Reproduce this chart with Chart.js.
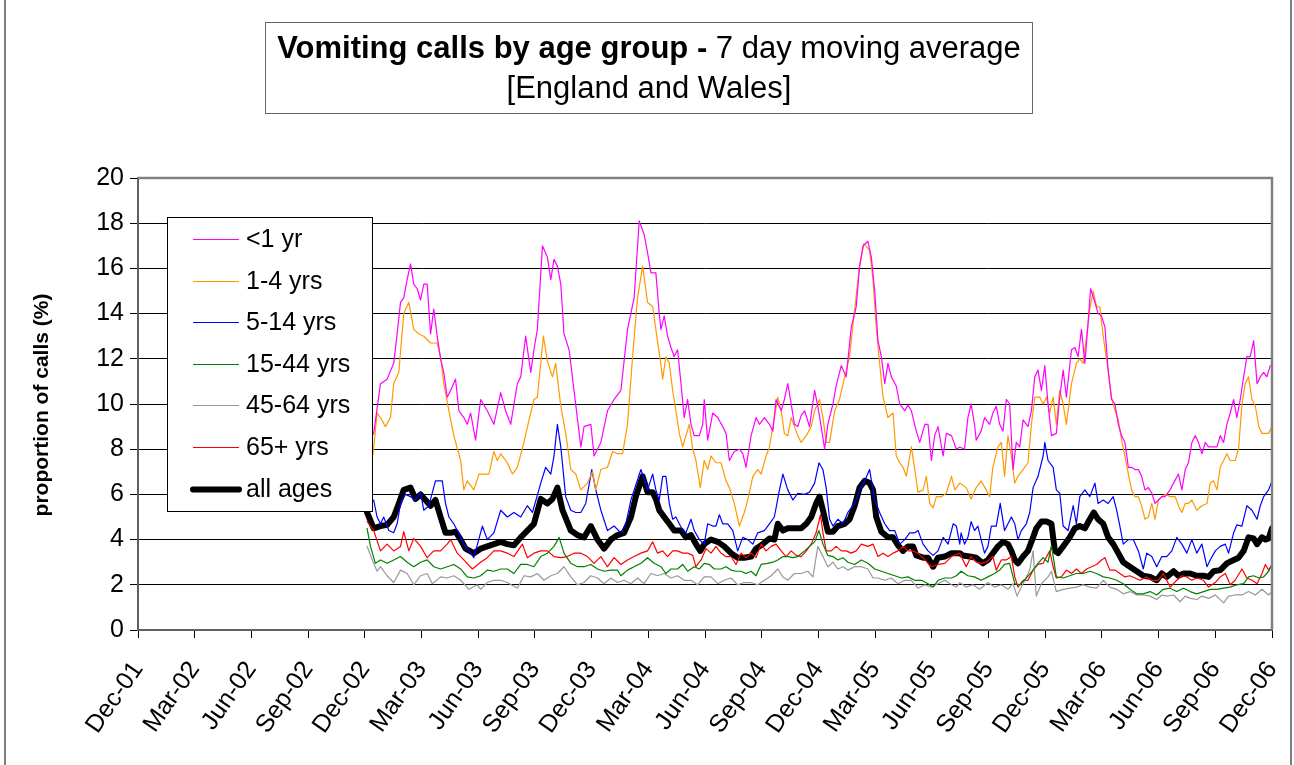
<!DOCTYPE html>
<html>
<head>
<meta charset="utf-8">
<title>Vomiting calls by age group</title>
<script src="https://cdn.jsdelivr.net/npm/chart.js@4.4.1/dist/chart.umd.min.js"></script>
<style>
  html, body { margin: 0; padding: 0; background: #fff; }
  #wrap { width: 1294px; height: 765px; position: relative; }
</style>
</head>
<body>
<div id="wrap"><canvas id="chart" width="1294" height="765"></canvas></div>
<script>
// x = months since Dec-01, y = % of calls; each series is a list of [month, value] readings
const quarterLabels = ['Dec-01','Mar-02','Jun-02','Sep-02','Dec-02','Mar-03','Jun-03','Sep-03','Dec-03',
  'Mar-04','Jun-04','Sep-04','Dec-04','Mar-05','Jun-05','Sep-05','Dec-05','Mar-06','Jun-06','Sep-06','Dec-06'];

const under1 = [[12.1,8.3],[12.47,8.7],[12.83,10.9],[13.18,11.1],[13.53,11.8],[13.71,13.1],[13.89,14.5],[14.06,14.7],
  [14.24,15.5],[14.42,16.2],[14.59,15.3],[14.77,15.1],[14.95,14.6],[15.12,15.3],[15.30,15.3],[15.48,13.1],[15.65,14.2],
  [15.83,13.0],[16.01,12.0],[16.18,11.4],[16.36,10.3],[16.54,10.6],[16.80,11.1],[16.98,9.7],[17.24,9.4],[17.42,9.1],
  [17.60,9.6],[17.86,8.4],[18.13,10.2],[18.48,9.7],[18.83,9.1],[19.19,10.5],[19.45,9.7],[19.72,9.1],[20.07,10.9],
  [20.25,11.2],[20.51,13.0],[20.78,11.4],[20.95,12.4],[21.13,13.3],[21.40,17.0],[21.66,16.5],[21.84,15.5],[22.01,16.4],
  [22.19,16.1],[22.37,15.3],[22.54,13.1],[22.81,12.4],[23.07,10.6],[23.43,8.1],[23.60,9.0],[23.96,9.1],[24.13,7.7],
  [24.49,8.3],[24.84,9.7],[25.19,10.2],[25.55,10.6],[25.90,13.3],[26.25,14.7],[26.52,18.1],[26.78,17.5],[26.96,16.7],
  [27.14,15.8],[27.40,15.8],[27.58,14.0],[27.67,13.3],[27.84,13.9],[28.02,13.0],[28.20,12.5],[28.37,12.1],[28.55,12.4],
  [28.73,10.9],[28.90,9.4],[29.08,10.2],[29.26,9.1],[29.43,8.6],[29.70,8.6],[29.88,9.1],[29.96,10.2],[30.14,8.4],
  [30.41,9.6],[30.67,9.4],[30.94,9.0],[31.11,8.7],[31.29,7.5],[31.55,7.9],[31.82,8.0],[32.00,7.8],[32.17,7.2],
  [32.44,8.6],[32.70,9.4],[32.88,9.1],[33.14,9.4],[33.41,9.1],[33.59,8.8],[33.76,10.2],[34.03,9.7],[34.20,10.2],
  [34.38,10.9],[34.56,10.0],[34.73,9.1],[34.91,9.0],[35.09,9.5],[35.27,9.7],[35.53,9.0],[35.80,10.6],[35.97,9.9],
  [36.15,9.0],[36.33,8.0],[36.50,9.1],[36.77,10.0],[36.94,10.8],[37.21,11.7],[37.47,11.2],[37.74,13.4],[38.00,14.3],
  [38.18,16.1],[38.36,17.0],[38.62,17.2],[38.80,16.5],[38.98,15.0],[39.15,12.8],[39.33,12.1],[39.51,10.9],[39.68,11.8],
  [39.86,11.2],[40.12,10.8],[40.30,10.0],[40.57,9.7],[40.74,9.95],[40.92,9.7],[41.18,8.8],[41.36,8.3],[41.63,9.1],
  [41.80,9.1],[41.98,7.5],[42.15,8.6],[42.33,9.0],[42.60,7.7],[42.77,8.7],[43.04,8.6],[43.30,8.0],[43.48,8.1],
  [43.73,8.0],[43.91,9.4],[44.08,10.0],[44.26,9.1],[44.35,8.4],[44.61,8.8],[44.79,9.4],[45.06,9.1],[45.23,9.6],
  [45.41,9.9],[45.59,9.1],[45.77,8.8],[45.94,10.2],[46.12,10.0],[46.30,7.1],[46.47,8.3],[46.65,8.1],[46.83,9.3],
  [47.09,9.0],[47.27,9.7],[47.45,11.2],[47.62,11.5],[47.80,10.6],[47.98,11.7],[48.15,10.0],[48.33,8.6],[48.59,8.7],
  [48.77,10.3],[48.95,11.5],[49.12,10.3],[49.39,12.4],[49.57,12.5],[49.74,12.1],[49.92,13.3],[50.10,11.8],[50.27,13.6],
  [50.40,15.1],[50.63,14.5],[50.80,14.0],[50.98,13.9],[51.16,13.4],[51.33,11.5],[51.51,10.2],[51.69,10.0],[51.87,9.1],
  [52.04,8.6],[52.22,8.3],[52.40,7.2],[52.57,7.2],[52.75,7.1],[52.93,7.1],[53.10,6.8],[53.28,6.2],[53.46,6.3],
  [53.64,6.05],[53.81,5.6],[53.99,5.75],[54.17,5.9],[54.34,5.9],[54.61,6.2],[54.79,6.5],[55.05,6.9],[55.23,6.2],
  [55.41,7.1],[55.58,7.4],[55.76,8.3],[55.94,8.6],[56.11,8.3],[56.29,7.8],[56.47,8.3],[56.64,8.1],[56.82,8.1],
  [57.09,8.1],[57.26,8.6],[57.44,8.3],[57.61,9.1],[57.79,9.6],[57.97,10.2],[58.14,9.4],[58.32,10.2],[58.50,11.2],
  [58.67,12.1],[58.85,12.1],[59.03,12.8],[59.21,10.9],[59.38,11.2],[59.56,11.4],[59.73,11.2],[59.91,11.7]];

const age1to4 = [[12.1,7.0],[12.44,7.8],[12.65,9.6],[12.83,9.4],[13.09,9.0],[13.36,9.4],[13.53,10.9],[13.80,11.4],
  [14.06,14.0],[14.33,14.5],[14.59,13.3],[14.86,13.1],[15.12,13.0],[15.48,12.7],[15.83,12.7],[16.01,12.1],[16.18,10.9],
  [16.45,9.7],[16.71,8.6],[17.07,7.5],[17.24,6.2],[17.42,6.6],[17.77,6.2],[18.04,6.9],[18.30,6.9],[18.57,6.9],
  [18.83,7.9],[19.01,7.5],[19.19,7.8],[19.54,7.4],[19.81,6.9],[20.07,7.2],[20.42,8.3],[20.69,9.3],[20.95,10.2],
  [21.13,10.3],[21.45,13.0],[21.66,11.9],[21.93,11.2],[22.10,11.8],[22.37,9.9],[22.63,8.7],[22.90,7.1],[23.16,6.9],
  [23.43,6.2],[23.78,6.5],[24.05,7.0],[24.22,6.2],[24.49,7.1],[24.84,7.2],[25.11,7.9],[25.37,7.8],[25.64,7.8],
  [25.90,9.1],[26.17,12.1],[26.43,14.7],[26.70,16.1],[26.96,14.5],[27.23,14.3],[27.40,13.3],[27.67,11.7],[27.76,11.1],
  [27.93,12.1],[28.11,11.8],[28.29,10.6],[28.46,9.7],[28.64,8.7],[28.82,8.1],[28.99,8.6],[29.17,9.1],[29.35,8.0],
  [29.52,7.5],[29.75,6.3],[29.96,7.5],[30.14,7.1],[30.32,7.7],[30.58,7.4],[30.85,7.4],[31.11,6.6],[31.29,6.3],
  [31.55,5.6],[31.82,4.6],[32.08,5.2],[32.26,5.75],[32.53,6.8],[32.79,7.1],[32.97,6.9],[33.23,7.7],[33.41,8.1],
  [33.59,9.0],[33.85,10.3],[34.03,9.7],[34.20,8.7],[34.38,8.6],[34.56,9.4],[34.73,9.0],[34.91,8.6],[35.09,8.3],
  [35.36,8.6],[35.62,9.0],[35.80,9.7],[36.06,10.2],[36.24,9.4],[36.41,8.3],[36.59,8.3],[36.86,9.7],[37.12,10.2],
  [37.39,11.2],[37.65,12.1],[37.92,14.2],[38.18,16.1],[38.41,17.1],[38.71,16.8],[38.89,15.5],[39.06,13.4],[39.24,11.8],
  [39.42,10.3],[39.68,9.4],[39.95,9.6],[40.12,7.7],[40.30,7.4],[40.48,7.2],[40.65,6.8],[40.92,8.1],[41.10,7.1],
  [41.27,6.1],[41.54,6.2],[41.71,6.8],[41.89,5.6],[42.07,5.4],[42.24,5.9],[42.51,5.9],[42.77,6.05],[43.04,6.8],
  [43.22,6.2],[43.48,6.5],[43.82,6.3],[44.08,5.8],[44.35,6.3],[44.61,6.6],[44.88,6.2],[45.06,5.9],[45.23,7.2],
  [45.50,8.1],[45.68,8.3],[45.85,6.8],[46.03,8.6],[46.21,7.7],[46.39,6.5],[46.56,6.8],[46.83,7.1],[47.09,7.4],
  [47.27,9.1],[47.45,10.3],[47.71,10.3],[47.89,10.0],[48.07,10.3],[48.24,9.6],[48.42,10.3],[48.59,9.1],[48.77,10.6],
  [48.95,10.0],[49.12,9.1],[49.39,10.9],[49.65,11.8],[49.83,12.0],[50.01,11.8],[50.19,13.0],[50.36,14.2],[50.54,15.0],
  [50.72,14.3],[50.89,14.3],[51.07,13.0],[51.33,11.5],[51.51,10.3],[51.69,9.7],[51.87,9.3],[52.04,8.4],[52.22,7.7],
  [52.40,6.9],[52.57,6.2],[52.75,5.9],[52.93,5.9],[53.10,5.5],[53.28,4.9],[53.46,5.0],[53.64,5.6],[53.81,4.9],
  [53.99,5.75],[54.17,5.9],[54.34,6.0],[54.61,5.9],[54.88,5.9],[55.05,5.5],[55.23,5.2],[55.41,5.6],[55.58,5.6],
  [55.76,5.75],[56.02,5.3],[56.29,5.5],[56.56,5.6],[56.73,6.5],[56.91,6.6],[57.09,6.2],[57.26,7.2],[57.44,7.5],
  [57.61,7.8],[57.79,7.5],[58.05,7.5],[58.23,8.0],[58.41,10.0],[58.58,10.9],[58.76,11.2],[58.94,10.2],[59.12,9.9],
  [59.30,9.0],[59.47,8.7],[59.65,8.7],[59.82,8.7],[60.00,9.0]];

const age5to14 = [[12.1,5.6],[12.47,5.75],[12.65,5.0],[12.83,4.7],[13.00,5.0],[13.27,4.4],[13.53,4.3],[13.71,4.7],
  [13.89,5.6],[14.15,6.0],[14.42,5.9],[14.68,5.75],[14.95,6.1],[15.12,5.3],[15.39,5.5],[15.74,6.6],[16.10,6.6],
  [16.27,5.6],[16.45,5.0],[16.71,4.7],[16.89,4.4],[17.24,3.8],[17.60,3.4],[17.77,3.2],[18.22,4.6],[18.48,4.0],
  [18.83,4.3],[19.19,5.3],[19.54,5.0],[19.89,5.2],[20.25,5.0],[20.60,5.5],[20.87,5.2],[21.31,6.5],[21.57,7.2],
  [21.84,6.9],[22.01,7.7],[22.19,9.1],[22.37,8.1],[22.63,5.9],[22.90,5.3],[23.16,5.2],[23.43,5.2],[23.69,5.6],
  [24.01,7.1],[24.22,6.2],[24.49,5.3],[24.84,4.4],[25.19,4.6],[25.55,4.3],[25.81,4.7],[26.08,5.75],[26.61,7.1],
  [26.96,6.2],[27.23,6.9],[27.40,6.2],[27.58,5.75],[27.76,6.8],[27.93,6.8],[28.11,5.6],[28.29,4.9],[28.46,5.0],
  [28.64,4.7],[28.82,4.4],[28.99,4.3],[29.26,4.9],[29.43,4.4],[29.70,4.0],[29.96,3.8],[30.14,4.7],[30.41,4.6],
  [30.58,4.6],[30.76,5.1],[30.94,4.7],[31.20,4.7],[31.47,4.4],[31.73,3.5],[32.00,4.1],[32.26,4.0],[32.53,3.8],
  [32.79,4.3],[33.14,4.4],[33.41,4.7],[33.67,5.0],[33.94,6.2],[34.12,6.9],[34.38,6.2],[34.65,5.75],[34.91,6.05],
  [35.27,6.0],[35.53,6.1],[35.80,6.5],[36.03,7.4],[36.24,7.1],[36.41,6.3],[36.59,4.9],[36.77,4.6],[37.03,4.9],
  [37.30,4.7],[37.56,5.2],[37.92,5.6],[38.18,6.2],[38.45,6.6],[38.71,7.1],[38.98,5.75],[39.24,5.2],[39.51,4.7],
  [39.77,4.4],[40.04,4.4],[40.30,3.8],[40.57,4.0],[40.83,4.3],[41.10,4.3],[41.27,4.4],[41.54,3.8],[41.80,3.5],
  [42.07,3.3],[42.33,3.5],[42.60,4.1],[42.86,3.8],[43.13,4.7],[43.30,4.6],[43.48,3.8],[43.55,4.3],[43.73,3.8],
  [43.91,4.1],[44.08,4.8],[44.26,4.4],[44.44,4.6],[44.61,4.0],[44.79,3.4],[44.97,3.7],[45.15,4.6],[45.41,4.6],
  [45.62,5.6],[45.85,4.4],[46.03,4.7],[46.21,5.0],[46.39,4.7],[46.56,4.0],[46.74,4.4],[47.00,4.7],[47.18,5.2],
  [47.36,6.3],[47.62,6.8],[47.89,7.7],[47.98,8.3],[48.15,7.5],[48.42,7.2],[48.59,6.2],[48.77,6.05],[48.95,4.6],
  [49.21,4.4],[49.48,5.5],[49.65,4.7],[49.83,5.9],[50.10,6.2],[50.36,5.9],[50.63,6.5],[50.80,5.6],[51.07,5.75],
  [51.33,5.6],[51.60,5.9],[51.78,5.3],[51.95,4.6],[52.13,3.8],[52.40,4.0],[52.66,4.0],[52.93,3.5],[53.19,2.7],
  [53.37,3.4],[53.64,3.25],[53.90,2.8],[54.17,3.25],[54.43,3.25],[54.70,3.5],[54.96,4.1],[55.23,3.8],[55.49,3.4],
  [55.76,4.0],[56.02,3.4],[56.29,3.8],[56.56,2.8],[56.73,3.1],[57.00,3.5],[57.26,3.7],[57.53,3.8],[57.70,3.4],
  [57.97,4.3],[58.14,4.65],[58.41,4.6],[58.67,5.5],[58.94,5.3],[59.21,4.9],[59.38,5.5],[59.56,5.9],[59.82,6.2],
  [60.00,6.6]];

const age15to44 = [[12.12,4.5],[12.30,3.7],[12.56,2.95],[12.83,3.1],[13.18,2.95],[13.53,3.1],[13.89,3.25],[14.24,3.0],
  [14.59,2.8],[14.95,3.0],[15.30,3.1],[15.65,2.8],[16.01,2.7],[16.36,2.8],[16.71,2.9],[17.07,2.7],[17.42,2.35],
  [17.77,2.3],[18.13,2.4],[18.48,2.65],[18.83,2.6],[19.19,2.7],[19.54,2.7],[19.89,2.5],[20.25,2.9],[20.60,2.9],
  [20.95,2.8],[21.31,3.25],[21.66,3.4],[22.01,3.7],[22.28,4.1],[22.54,3.4],[22.90,2.95],[23.25,2.8],[23.60,2.8],
  [23.96,2.9],[24.31,2.7],[24.66,2.6],[25.02,2.65],[25.37,2.65],[25.55,2.4],[25.90,2.65],[26.25,2.8],[26.61,2.95],
  [26.96,3.2],[27.31,2.95],[27.67,2.8],[27.93,2.5],[28.20,2.7],[28.55,2.7],[28.82,2.9],[29.08,2.6],[29.43,2.8],
  [29.70,2.7],[29.96,2.95],[30.23,2.9],[30.49,2.7],[30.85,2.7],[31.11,2.8],[31.38,2.65],[31.64,2.6],[31.91,2.6],
  [32.17,2.5],[32.44,2.6],[32.70,2.4],[32.97,2.9],[33.32,2.95],[33.59,3.0],[33.85,3.1],[34.12,3.25],[34.38,3.25],
  [34.65,3.2],[34.91,3.25],[35.27,3.5],[35.53,3.7],[35.80,3.9],[36.03,4.4],[36.24,3.8],[36.50,3.3],[36.77,3.25],
  [37.03,3.1],[37.30,3.2],[37.56,3.0],[37.92,2.9],[38.27,3.1],[38.62,2.95],[38.98,2.7],[39.33,2.6],[39.68,2.5],
  [40.04,2.4],[40.39,2.3],[40.74,2.35],[41.10,2.2],[41.45,2.2],[41.80,2.05],[42.07,1.9],[42.33,2.2],[42.69,2.3],
  [43.04,2.3],[43.30,2.4],[43.55,2.6],[43.91,2.4],[44.26,2.35],[44.61,2.2],[44.97,2.35],[45.32,2.5],[45.59,2.65],
  [45.85,2.9],[46.12,2.95],[46.39,2.05],[46.65,2.0],[47.00,2.3],[47.36,2.65],[47.62,2.95],[47.89,3.2],[48.15,3.0],
  [48.33,3.75],[48.59,2.35],[48.95,2.3],[49.30,2.4],[49.65,2.5],[50.01,2.5],[50.36,2.6],[50.72,2.5],[51.07,2.35],
  [51.42,2.3],[51.78,2.2],[52.13,2.05],[52.48,1.8],[52.84,1.6],[53.19,1.6],[53.55,1.7],[53.90,1.55],[54.25,1.8],
  [54.61,1.85],[54.96,1.7],[55.32,1.85],[55.67,1.7],[56.02,1.6],[56.38,1.7],[56.73,1.8],[57.09,1.8],[57.44,1.85],
  [57.79,1.9],[58.14,2.0],[58.50,2.05],[58.76,2.35],[59.03,2.4],[59.30,2.3],[59.56,2.35],[59.82,2.6],[60.00,2.9]];

const age45to64 = [[12.12,3.7],[12.47,2.95],[12.65,2.6],[12.83,2.8],[13.18,2.4],[13.53,2.1],[13.89,2.65],[14.24,2.5],
  [14.59,2.0],[14.95,2.4],[15.30,2.5],[15.57,2.05],[16.01,2.35],[16.36,2.3],[16.71,2.4],[17.07,2.2],[17.51,1.8],
  [17.95,2.0],[18.13,1.8],[18.48,2.1],[18.83,2.2],[19.19,2.2],[19.54,2.1],[20.07,1.85],[20.42,2.4],[20.78,2.35],
  [21.13,2.5],[21.48,2.2],[21.84,2.4],[22.19,2.5],[22.54,2.8],[22.90,2.35],[23.25,2.0],[23.60,2.1],[23.96,2.4],
  [24.31,2.3],[24.66,2.05],[25.02,2.3],[25.37,2.1],[25.72,2.2],[26.08,2.05],[26.43,2.3],[26.78,2.05],[27.14,2.5],
  [27.49,2.4],[27.84,2.5],[28.20,2.3],[28.55,2.4],[28.90,2.2],[29.26,2.2],[29.61,2.0],[29.96,2.35],[30.32,2.35],
  [30.67,2.05],[31.02,2.2],[31.38,2.3],[31.73,2.0],[32.08,2.1],[32.44,2.1],[32.79,2.0],[33.14,2.2],[33.50,2.4],
  [33.85,2.7],[34.12,2.35],[34.38,2.2],[34.73,2.5],[35.09,2.5],[35.44,2.6],[35.71,2.35],[35.97,3.7],[36.24,3.25],
  [36.50,2.8],[36.77,3.0],[37.03,2.7],[37.30,2.8],[37.56,2.65],[37.92,2.8],[38.27,2.8],[38.62,2.7],[38.89,2.3],
  [39.15,2.3],[39.51,2.2],[39.86,2.3],[40.21,2.05],[40.57,2.2],[40.92,2.2],[41.27,1.85],[41.63,2.0],[41.98,1.9],
  [42.33,2.05],[42.69,2.2],[43.04,2.0],[43.30,1.9],[43.48,2.1],[43.82,1.9],[44.17,2.0],[44.53,1.8],[44.97,2.1],
  [45.32,1.9],[45.68,2.0],[46.03,1.8],[46.30,2.05],[46.51,1.5],[46.83,2.05],[47.18,2.65],[47.36,3.5],[47.53,1.5],
  [47.80,2.05],[48.15,2.35],[48.33,2.6],[48.59,1.7],[48.95,1.8],[49.30,1.85],[49.65,1.9],[50.01,2.0],[50.36,1.9],
  [50.72,1.85],[51.07,2.2],[51.42,1.9],[51.78,1.8],[52.13,1.6],[52.48,1.7],[52.84,1.55],[53.19,1.55],[53.55,1.5],
  [53.90,1.35],[54.17,1.55],[54.43,1.5],[54.79,1.55],[55.14,1.25],[55.41,1.5],[55.67,1.4],[56.02,1.35],[56.29,1.5],
  [56.64,1.4],[57.00,1.55],[57.44,1.2],[57.70,1.5],[58.05,1.55],[58.41,1.55],[58.76,1.7],[59.12,1.55],[59.47,1.8],
  [59.82,1.55],[60.00,1.7]];

const age65plus = [[12.12,4.8],[12.47,4.4],[12.83,3.5],[13.18,3.8],[13.53,3.5],[13.89,3.7],[14.06,4.35],[14.33,3.5],
  [14.59,4.05],[14.95,3.7],[15.30,3.2],[15.65,3.5],[16.01,3.5],[16.36,3.8],[16.54,4.0],[16.89,3.4],[17.24,3.1],
  [17.69,2.7],[18.13,3.0],[18.48,3.2],[18.83,3.5],[19.19,3.5],[19.54,3.4],[19.89,3.25],[20.34,3.8],[20.60,3.2],
  [20.95,3.4],[21.31,3.5],[21.66,3.5],[22.01,3.25],[22.37,3.2],[22.72,3.25],[23.07,3.4],[23.43,3.4],[23.78,3.25],
  [24.13,2.95],[24.49,3.25],[24.84,2.8],[25.19,3.2],[25.55,2.9],[25.90,3.1],[26.25,3.25],[26.61,3.4],[26.96,3.5],
  [27.23,3.9],[27.49,3.4],[27.76,3.5],[28.02,3.25],[28.29,3.5],[28.55,3.5],[28.82,3.4],[29.08,3.4],[29.35,3.3],
  [29.52,2.8],[29.79,3.1],[30.05,3.6],[30.32,3.4],[30.58,3.7],[30.85,3.4],[31.11,3.25],[31.38,3.25],[31.64,2.9],
  [31.91,3.4],[32.17,3.2],[32.44,3.4],[32.70,3.2],[32.97,3.8],[33.23,3.5],[33.50,3.7],[33.76,3.8],[34.03,3.5],
  [34.29,3.25],[34.56,3.5],[34.82,3.3],[35.09,3.25],[35.36,3.5],[35.62,3.8],[35.88,4.3],[36.11,5.1],[36.24,4.3],
  [36.41,3.5],[36.68,3.5],[36.94,3.7],[37.21,3.5],[37.47,3.5],[37.74,3.4],[38.00,3.5],[38.27,3.8],[38.62,3.7],
  [38.89,3.8],[39.15,3.25],[39.42,3.4],[39.68,3.25],[39.95,3.4],[40.21,3.5],[40.48,3.7],[40.74,3.5],[41.01,3.5],
  [41.27,3.4],[41.63,3.1],[41.98,2.8],[42.33,2.9],[42.69,2.95],[43.04,3.25],[43.48,3.4],[43.82,2.8],[44.08,3.25],
  [44.35,3.0],[44.61,2.95],[44.88,3.0],[45.23,3.25],[45.41,2.65],[45.68,3.1],[45.94,3.1],[46.21,3.25],[46.39,2.35],
  [46.56,1.9],[46.83,2.2],[47.09,2.2],[47.36,2.65],[47.62,2.9],[47.89,2.95],[48.24,3.5],[48.42,2.8],[48.59,2.3],
  [48.86,2.35],[49.12,2.65],[49.39,2.5],[49.65,2.7],[49.92,2.5],[50.19,2.7],[50.45,2.8],[50.72,2.9],[50.98,3.1],
  [51.16,3.2],[51.42,2.65],[51.69,2.65],[51.95,2.5],[52.22,2.35],[52.48,2.4],[52.75,2.3],[53.02,2.2],[53.37,2.35],
  [53.64,2.2],[53.99,2.2],[54.25,2.5],[54.61,1.9],[54.96,2.2],[55.23,2.4],[55.49,2.35],[55.76,2.2],[56.02,2.3],
  [56.38,2.2],[56.64,1.9],[57.00,2.1],[57.26,2.35],[57.53,2.5],[57.79,2.0],[58.05,2.2],[58.41,2.7],[58.67,2.3],
  [58.94,2.2],[59.21,2.05],[59.47,2.5],[59.65,2.9],[59.82,2.65],[60.00,2.9]];

const allAges = [[12.12,5.2],[12.47,4.5],[12.83,4.6],[13.18,4.65],[13.53,5.0],[13.80,5.6],[14.06,6.2],[14.42,6.3],
  [14.68,5.8],[14.95,6.0],[15.21,5.75],[15.48,5.5],[15.74,5.75],[16.01,5.0],[16.27,4.3],[16.54,4.3],[16.80,4.35],
  [17.07,4.0],[17.33,3.6],[17.77,3.4],[18.13,3.6],[18.48,3.7],[18.83,3.8],[19.19,3.9],[19.54,3.8],[19.89,3.75],
  [20.25,4.1],[20.60,4.4],[20.95,4.7],[21.31,5.8],[21.66,5.6],[21.93,5.8],[22.19,6.3],[22.46,5.3],[22.90,4.4],
  [23.25,4.2],[23.60,4.1],[23.96,4.6],[24.31,4.0],[24.66,3.6],[25.02,4.0],[25.37,4.2],[25.72,4.3],[26.08,5.0],
  [26.34,5.9],[26.70,6.8],[26.96,6.1],[27.23,6.1],[27.40,5.8],[27.58,5.3],[27.84,5.0],[28.11,4.7],[28.37,4.4],
  [28.73,4.4],[28.99,4.1],[29.26,4.2],[29.52,3.8],[29.75,3.5],[29.96,3.8],[30.32,4.0],[30.67,3.9],[31.02,3.7],
  [31.38,3.4],[31.73,3.2],[32.08,3.2],[32.44,3.25],[32.70,3.6],[33.05,3.8],[33.41,4.05],[33.67,4.0],[33.85,4.7],
  [34.12,4.4],[34.38,4.5],[34.73,4.5],[35.09,4.5],[35.36,4.7],[35.62,5.0],[35.88,5.6],[36.06,5.9],[36.24,5.3],
  [36.50,4.35],[36.77,4.35],[37.03,4.6],[37.39,4.7],[37.65,4.9],[37.92,5.5],[38.18,6.3],[38.45,6.6],[38.71,6.5],
  [38.89,6.2],[39.06,5.0],[39.33,4.35],[39.68,4.1],[39.95,4.1],[40.21,3.75],[40.48,3.5],[40.74,3.7],[41.01,3.7],
  [41.18,3.3],[41.54,3.2],[41.80,3.2],[42.07,2.8],[42.33,3.2],[42.69,3.25],[43.04,3.4],[43.48,3.4],[43.64,3.3],
  [44.00,3.25],[44.35,3.2],[44.70,2.95],[44.97,3.1],[45.23,3.4],[45.50,3.7],[45.77,3.9],[46.03,3.8],[46.21,3.5],
  [46.39,3.1],[46.56,2.95],[46.83,3.25],[47.09,3.5],[47.36,4.1],[47.53,4.5],[47.80,4.8],[48.07,4.8],[48.33,4.7],
  [48.51,3.5],[48.68,3.4],[48.95,3.7],[49.30,4.1],[49.57,4.5],[49.83,4.6],[50.10,4.5],[50.36,4.9],[50.57,5.2],
  [50.80,4.9],[51.07,4.7],[51.33,4.1],[51.60,3.8],[51.87,3.4],[52.13,3.0],[52.48,2.8],[52.84,2.6],[53.19,2.4],
  [53.55,2.35],[53.90,2.2],[54.17,2.5],[54.43,2.35],[54.79,2.6],[55.05,2.4],[55.32,2.5],[55.67,2.5],[56.02,2.4],
  [56.38,2.4],[56.64,2.35],[56.91,2.6],[57.26,2.65],[57.61,2.95],[57.97,3.1],[58.23,3.2],[58.50,3.5],[58.76,4.1],
  [59.03,4.05],[59.21,3.8],[59.47,4.1],[59.65,4.0],[59.82,4.05],[60.00,4.5]];

const FONT = "'Liberation Sans', Arial, sans-serif";

function series(label, pairs, color, width) {
    return {
        label: label,
        data: pairs.map(p => ({ x: p[0], y: p[1] })),
        borderColor: color, backgroundColor: color,
        borderWidth: width, pointRadius: 0, tension: 0, fill: false,
        borderJoinStyle: 'round', borderCapStyle: 'round'
    };
}

// title box, axis title, plot frame and legend drawn straight onto the canvas
const decorations = {
    id: 'decorations',
    afterDraw(chart) {
        const ctx = chart.ctx;
        const area = chart.chartArea;
        ctx.save();

        // outer frame (only the sides show in the picture)
        ctx.strokeStyle = '#555';
        ctx.lineWidth = 1.5;
        ctx.beginPath();
        ctx.moveTo(5, 0); ctx.lineTo(5, 765);
        ctx.moveTo(1291, 0); ctx.lineTo(1291, 765);
        ctx.stroke();

        // plot frame top / right
        ctx.strokeStyle = '#808080';
        ctx.lineWidth = 2.5;
        ctx.beginPath();
        ctx.moveTo(area.left, area.top); ctx.lineTo(area.right, area.top); ctx.lineTo(area.right, area.bottom);
        ctx.stroke();

        // title box
        ctx.fillStyle = '#fff';
        ctx.fillRect(265, 22, 767, 91);
        ctx.strokeStyle = '#666';
        ctx.lineWidth = 1;
        ctx.strokeRect(265.5, 22.5, 767, 91);

        ctx.fillStyle = '#000';
        ctx.textBaseline = 'middle';
        const boldPart = 'Vomiting calls by age group - ';
        const plainPart = '7 day moving average';
        ctx.font = 'bold 31px ' + FONT;
        const wb = ctx.measureText(boldPart).width;
        ctx.font = '31px ' + FONT;
        const wp = ctx.measureText(plainPart).width;
        const tx = 649 - (wb + wp) / 2;
        ctx.textAlign = 'left';
        ctx.font = 'bold 31px ' + FONT;
        ctx.fillText(boldPart, tx, 49);
        ctx.font = '31px ' + FONT;
        ctx.fillText(plainPart, tx + wb, 49);
        ctx.textAlign = 'center';
        ctx.fillText('[England and Wales]', 649, 89);

        // y axis title
        ctx.save();
        ctx.translate(42, 405);
        ctx.rotate(-Math.PI / 2);
        ctx.font = 'bold 21px ' + FONT;
        ctx.textAlign = 'center';
        ctx.fillText('proportion of calls (%)', 0, 0);
        ctx.restore();

        // legend
        ctx.fillStyle = '#fff';
        ctx.fillRect(167, 217, 205, 294);
        ctx.strokeStyle = '#000';
        ctx.lineWidth = 1;
        ctx.strokeRect(167.5, 217.5, 205, 294);
        ctx.font = '25px ' + FONT;
        ctx.textAlign = 'left';
        chart.data.datasets.forEach((ds, i) => {
            const y = Math.round(239 + i * 41.6) + 0.5;
            ctx.strokeStyle = ds.borderColor;
            ctx.lineWidth = ds.borderWidth;
            ctx.lineCap = ds.borderWidth > 2 ? 'round' : 'butt';
            ctx.beginPath();
            ctx.moveTo(193, y);
            ctx.lineTo(239, y);
            ctx.stroke();
            ctx.fillStyle = '#000';
            ctx.fillText(ds.label, 246, y + 1);
        });
        ctx.restore();
    }
};

new Chart(document.getElementById('chart'), {
    type: 'line',
    data: {
        datasets: [
            series('<1 yr', under1, '#FF00FF', 1.2),
            series('1-4 yrs', age1to4, '#FF9900', 1.2),
            series('5-14 yrs', age5to14, '#0000FF', 1.2),
            series('15-44 yrs', age15to44, '#008000', 1.2),
            series('45-64 yrs', age45to64, '#999999', 1.2),
            series('65+ yrs', age65plus, '#FF0000', 1.2),
            series('all ages', allAges, '#000000', 6)
        ]
    },
    options: {
        responsive: false,
        animation: false,
        events: [],
        layout: { padding: { left: 0, top: 178, right: 22, bottom: 0 } },
        plugins: { legend: { display: false }, title: { display: false }, tooltip: { enabled: false } },
        scales: {
            x: {
                type: 'linear', min: 0, max: 60,
                afterFit(scale) { scale.height = 135; scale.paddingLeft = 0; scale.paddingRight = 0; },
                afterBuildTicks(scale) {
                    scale.ticks = quarterLabels.map((l, i) => ({ value: i * 3 }));
                },
                ticks: {
                    autoSkip: false, minRotation: 55, maxRotation: 55, padding: 18,
                    color: '#000', font: { family: FONT, size: 25 },
                    callback: (v) => quarterLabels[Math.round(v / 3)]
                },
                grid: { drawOnChartArea: false, drawTicks: true, tickLength: 8, tickColor: '#000', tickWidth: 1 },
                border: { display: true, color: '#606060', width: 2 }
            },
            y: {
                min: 0, max: 20,
                afterFit(scale) { scale.width = 138; },
                ticks: { stepSize: 2, padding: 6, color: '#000', font: { family: FONT, size: 25 } },
                grid: { color: '#000', lineWidth: 1, tickLength: 8, tickColor: '#000' },
                border: { display: true, color: '#606060', width: 2 }
            }
        }
    },
    plugins: [decorations]
});
</script>
</body>
</html>
